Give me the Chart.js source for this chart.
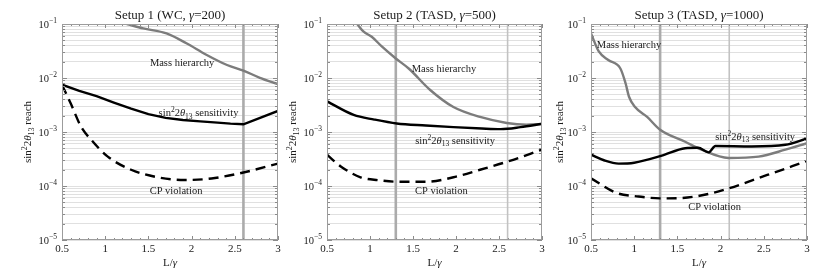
<!DOCTYPE html>
<html><head><meta charset="utf-8">
<script src="https://cdn.jsdelivr.net/npm/chart.js@4.4.0/dist/chart.umd.min.js"></script>
<style>
body{margin:0;background:#fff}
#wrap{position:relative;width:830px;height:275px}
canvas{position:absolute;left:0;top:0}
</style></head><body>
<div id="wrap">
<canvas id="c0" width="830" height="275"></canvas>
<canvas id="c1" width="830" height="275"></canvas>
<canvas id="c2" width="830" height="275"></canvas>
</div>
<script>
// ---------- axis ticks ----------
const xTicks = [0.5, 1, 1.5, 2, 2.5, 3];
const xTickLabels = ['0.5', '1', '1.5', '2', '2.5', '3'];
const yDecades = [1e-5, 1e-4, 1e-3, 1e-2, 1e-1];
const yDecadeExps = ['\u22125', '\u22124', '\u22123', '\u22122', '\u22121'];

// ---------- titles ----------
const titlePre = ['Setup 1 (WC, ', 'Setup 2 (TASD, ', 'Setup 3 (TASD, '];
const titlePost = ['=200)', '=500)', '=1000)'];

// ---------- Setup 1 ----------
const mh1X = [1.25, 1.44, 1.71, 1.94, 2.17, 2.41, 2.6, 2.79, 3.0];
const mh1Y = [0.1, 0.083, 0.067, 0.044, 0.027, 0.0174, 0.0137, 0.0101, 0.0077];
const s1X = [0.5, 0.7, 0.9, 1.1, 1.3, 1.5, 1.7, 1.9, 2.1, 2.3, 2.45, 2.6, 2.8, 3.0];
const s1Y = [0.0075, 0.0058, 0.0046, 0.0035, 0.0027, 0.00215, 0.00183, 0.00167, 0.00157, 0.00149, 0.00143, 0.00139, 0.00185, 0.00245];
const cp1X = [0.5, 0.6, 0.72, 0.84, 1.03, 1.3, 1.61, 1.92, 2.23, 2.6, 3.0];
const cp1Y = [0.0075, 0.0034, 0.00126, 0.00071, 0.00035, 0.0002, 0.000145, 0.000129, 0.000138, 0.000178, 0.00026];
const mark1 = [2.6];
const markW1 = ['thick'];

// ---------- Setup 2 ----------
const mh2X = [0.85, 0.926, 1.02, 1.14, 1.30, 1.45, 1.70, 1.97, 2.28, 2.59, 2.82, 3.0];
const mh2Y = [0.1, 0.072, 0.058, 0.038, 0.023, 0.015, 0.006, 0.0029, 0.0019, 0.00147, 0.00137, 0.0014];
const s2X = [0.5, 0.81, 1.05, 1.31, 1.65, 1.97, 2.3, 2.52, 2.75, 3.0];
const s2Y = [0.0037, 0.00207, 0.0017, 0.00144, 0.00132, 0.00123, 0.00116, 0.00113, 0.00123, 0.00142];
const cp2X = [0.5, 0.66, 0.89, 1.1, 1.31, 1.66, 1.97, 2.28, 2.59, 3.0];
const cp2Y = [0.00038, 0.00023, 0.000145, 0.000128, 0.00012, 0.00012, 0.000145, 0.0002, 0.00028, 0.00047];
const mark2 = [1.3, 2.6];
const markW2 = ['thick', 'thin'];

// ---------- Setup 3 ----------
const mh3X = [0.5, 0.59, 0.70, 0.84, 0.90, 0.94, 1.01, 1.15, 1.30, 1.59, 1.78, 2.09, 2.44, 2.75, 3.0];
const mh3Y = [0.067, 0.031, 0.0215, 0.015, 0.008, 0.0045, 0.0029, 0.0019, 0.0011, 0.00066, 0.00047, 0.00033, 0.00035, 0.00047, 0.00062];
const s3X = [0.5, 0.65, 0.82, 1.0, 1.31, 1.59, 1.74, 1.86, 1.94, 2.36, 2.75, 3.0];
const s3Y = [0.00038, 0.0003, 0.00026, 0.00027, 0.00036, 0.0005, 0.00051, 0.00042, 0.00055, 0.00054, 0.00058, 0.00076];
const cp3X = [0.5, 0.8, 1.05, 1.3, 1.55, 1.8, 2.1, 2.54, 3.0];
const cp3Y = [0.000139, 0.000074, 0.000064, 0.000059, 0.00006, 0.000068, 0.000091, 0.00016, 0.00029];
const mark3 = [1.3, 2.1];
const markW3 = ['thick', 'thin'];

// ---------- curve labels (data coordinates) ----------
const mhLabelAt = [[1.89, 0.019], [1.86, 0.0151], [0.94, 0.041]];
const sLabelAt  = [[2.08, 0.00228], [1.99, 0.00071], [2.40, 0.00084]];
const cpLabelAt = [[1.82, 8.2e-5], [1.83, 8.1e-5], [1.93, 4.1e-5]];

// ---------- layout ----------
const plotLeft = [62, 327, 591];
const plotRight = [278, 542, 807];
const yTitleX = [27, 292, 559];

const SERIF = '"Liberation Serif","Times New Roman",serif';
const F = (sz, it) => (it ? 'italic ' : '') + sz + 'px ' + SERIF;

function richWidth(ctx, segs) {
  let w = 0;
  for (const s of segs) { ctx.font = s.f; w += ctx.measureText(s.t).width; }
  return w;
}
function drawRich(ctx, segs, x, y, align) {
  const w = richWidth(ctx, segs);
  let cx = align === 'center' ? x - w / 2 : (align === 'right' ? x - w : x);
  ctx.textAlign = 'left'; ctx.textBaseline = 'alphabetic';
  for (const s of segs) {
    ctx.font = s.f;
    ctx.fillText(s.t, cx, y + (s.dy || 0));
    cx += ctx.measureText(s.t).width;
  }
}
function sinSegs(sz, tail) {
  const small = sz * 0.72;
  return [
    { t: 'sin', f: F(sz) },
    { t: '2', f: F(small), dy: -sz * 0.38 },
    { t: '2', f: F(sz) },
    { t: '\u03b8', f: F(sz, true) },
    { t: '13', f: F(small), dy: sz * 0.25 },
    { t: tail, f: F(sz) }
  ];
}

function pts(xa, ya) { return xa.map((x, i) => ({ x: x, y: ya[i] })); }

const yGridVals = [];
for (const d of yDecades) { for (let k = 1; k <= 9; k++) { const v = d * k; if (v <= 0.1000001) yGridVals.push(+v.toPrecision(3)); } }
const xMinor = [];
for (let k = 5; k <= 30; k++) xMinor.push(k / 10);

const panels = [
  { mh: [mh1X, mh1Y], s: [s1X, s1Y], cp: [cp1X, cp1Y], marks: mark1, markW: markW1 },
  { mh: [mh2X, mh2Y], s: [s2X, s2Y], cp: [cp2X, cp2Y], marks: mark2, markW: markW2 },
  { mh: [mh3X, mh3Y], s: [s3X, s3Y], cp: [cp3X, cp3Y], marks: mark3, markW: markW3 }
];

panels.forEach((p, i) => {
  const datasets = [
    { data: pts(p.mh[0], p.mh[1]), borderColor: '#7c7c7c', borderWidth: 2.4, cubicInterpolationMode: 'monotone', order: 1 },
    { data: pts(p.s[0], p.s[1]), borderColor: '#000', borderWidth: 2.4, tension: 0, order: 0 },
    { data: pts(p.cp[0], p.cp[1]), borderColor: '#000', borderWidth: 2.4, borderDash: [10, 6], cubicInterpolationMode: 'monotone', order: 0 }
  ];
  if (i > 0) datasets[1].cubicInterpolationMode = 'monotone';
  if (i > 0) datasets[1].tension = 0.4;
  p.marks.forEach((m, k) => {
    const thick = p.markW[k] === 'thick';
    datasets.push({ data: [{ x: m, y: 1e-5 }, { x: m, y: 0.1 }], borderColor: thick ? '#ababab' : '#c2c2c2', borderWidth: thick ? 2.6 : 1.6, order: 5 });
  });

  const decor = {
    id: 'decor' + i,
    afterDatasetsDraw(chart) {
      const ctx = chart.ctx, a = chart.chartArea, xs = chart.scales.x, ys = chart.scales.y;
      ctx.save();
      ctx.strokeStyle = '#8a8a8a'; ctx.lineWidth = 1;
      ctx.beginPath();
      for (const v of xMinor) {
        const px = Math.round(xs.getPixelForValue(v)) + 0.5;
        const len = (Math.abs(v * 2 - Math.round(v * 2)) < 1e-6) ? 4 : 2;
        ctx.moveTo(px, a.top); ctx.lineTo(px, a.top + len);
        ctx.moveTo(px, a.bottom); ctx.lineTo(px, a.bottom - len);
      }
      for (const v of yGridVals) {
        const py = Math.round(ys.getPixelForValue(v)) + 0.5;
        const len = yDecades.some(d => Math.abs(d - v) / v < 1e-6) ? 5 : 3;
        ctx.moveTo(a.left, py); ctx.lineTo(a.left + len, py);
        ctx.moveTo(a.right, py); ctx.lineTo(a.right - len, py);
      }
      ctx.stroke();
      ctx.strokeStyle = '#9c9c9c'; ctx.lineWidth = 1;
      ctx.strokeRect(a.left + 0.5, a.top + 0.5, a.width - 1, a.height - 1);
      ctx.restore();
    },
    afterDraw(chart) {
      const ctx = chart.ctx, a = chart.chartArea, xs = chart.scales.x, ys = chart.scales.y;
      ctx.save();
      ctx.fillStyle = '#1a1a1a';
      const cx = (a.left + a.right) / 2;
      drawRich(ctx, [{ t: titlePre[i], f: F(13) }, { t: '\u03b3', f: F(13, true) }, { t: titlePost[i], f: F(13) }], cx, 19, 'center');
      yDecades.forEach((d, k) => {
        const py = ys.getPixelForValue(d);
        drawRich(ctx, [{ t: '10', f: F(10.5) }, { t: yDecadeExps[k], f: F(7.5), dy: -5 }], a.left - 5, py + 4, 'right');
      });
      xTicks.forEach((v, k) => {
        drawRich(ctx, [{ t: xTickLabels[k], f: F(11) }], xs.getPixelForValue(v), 252, 'center');
      });
      drawRich(ctx, [{ t: 'L/', f: F(11) }, { t: '\u03b3', f: F(11, true) }], cx, 266, 'center');
      ctx.save();
      ctx.translate(yTitleX[i] + 4, (a.top + a.bottom) / 2);
      ctx.rotate(-Math.PI / 2);
      drawRich(ctx, sinSegs(11, ' reach'), 0, 0, 'center');
      ctx.restore();
      const lab = (pos, segs) => {
        drawRich(ctx, segs, xs.getPixelForValue(pos[0]), ys.getPixelForValue(pos[1]) + 3.5, 'center');
      };
      lab(mhLabelAt[i], [{ t: 'Mass hierarchy', f: F(10.5) }]);
      lab(sLabelAt[i], sinSegs(10.5, ' sensitivity'));
      lab(cpLabelAt[i], [{ t: 'CP violation', f: F(10.5) }]);
      ctx.restore();
    }
  };

  new Chart(document.getElementById('c' + i), {
    type: 'line',
    data: { datasets: datasets },
    options: {
      responsive: false,
      animation: false,
      events: [],
      layout: { padding: { left: plotLeft[i], right: 830 - plotRight[i], top: 24, bottom: 35 } },
      elements: { point: { radius: 0 } },
      plugins: { legend: { display: false }, tooltip: { enabled: false }, title: { display: false } },
      scales: {
        x: {
          type: 'linear', min: 0.5, max: 3,
          grid: { display: false }, border: { display: false },
          ticks: { display: false },
          afterFit(s) { s.height = 0; }
        },
        y: {
          type: 'logarithmic', min: 1e-5, max: 0.1,
          grid: { color: '#e0e0e0', lineWidth: 1, drawTicks: false },
          border: { display: false },
          ticks: { display: false },
          afterBuildTicks(s) { s.ticks = yGridVals.map(v => ({ value: v })); },
          afterFit(s) { s.width = 0; }
        }
      }
    },
    plugins: [decor]
  });
});
</script>
</body></html>
